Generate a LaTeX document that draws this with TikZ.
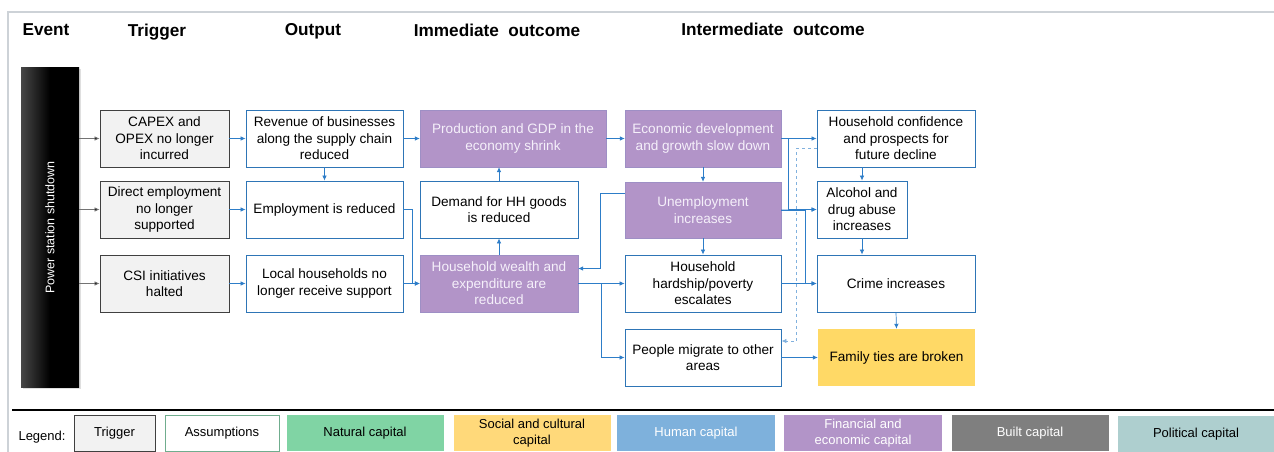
\documentclass[tikz,border=0pt]{standalone}
\usepackage{fontspec}
\setmainfont{Liberation Sans}
\usetikzlibrary{arrows.meta,positioning,calc,shadows}
\definecolor{bluebd}{RGB}{46,117,182}
\definecolor{bluecn}{RGB}{45,125,200}
\definecolor{purp}{RGB}{178,148,200}
\definecolor{yell}{RGB}{255,217,102}
\definecolor{legyell}{RGB}{255,217,122}
\definecolor{natgreen}{RGB}{128,212,164}
\definecolor{humblue}{RGB}{126,177,220}
\definecolor{builtgray}{RGB}{127,127,127}
\definecolor{polgreen}{RGB}{174,207,207}
\definecolor{asmgreen}{RGB}{112,173,142}
\definecolor{triggray}{RGB}{242,242,242}
\definecolor{framegray}{RGB}{205,210,215}
\definecolor{lavwhite}{RGB}{245,240,250}
\tikzset{
  basebox/.style={rectangle, inner sep=1pt, align=center, font=\fontsize{13.6}{16.5}\selectfont},
  trig/.style={basebox, fill=triggray, draw=black!75, line width=0.9pt},
  asm/.style={basebox, fill=white, draw=bluebd, line width=0.9pt},
  fin/.style={basebox, fill=purp, draw=purp!85!bluebd, line width=0.4pt, text=lavwhite},
  soc/.style={basebox, fill=yell, draw=none},
  conn/.style={draw=bluecn, line width=0.7pt, -{Latex[length=5pt,width=4.5pt]}},
  dconn/.style={draw=bluecn!60, line width=0.8pt, dashed, -{Latex[length=5pt,width=4.5pt]}},
  evconn/.style={draw=black!55, line width=0.7pt, -{Latex[length=5pt,width=4.5pt,fill=black]}},
  header/.style={font=\fontsize{17.2}{19}\selectfont\bfseries, anchor=base},
  leg/.style={rectangle, inner sep=1pt, align=center, minimum width=158, minimum height=36, font=\fontsize{13}{15.5}\selectfont},
}
\begin{document}
\begin{tikzpicture}[x=1pt,y=-1pt]
\useasboundingbox (0,0) rectangle (1274,452);
% frame
\draw[framegray, line width=1.5pt] (8,452) -- (8,12) -- (1274,12);
\draw[black, line width=2.5pt] (12,410) -- (1274,410);
% headers
\node[header, anchor=base west] (hEvent) at (19,36) {Event};
\node[header] (hTrig) at (157,37) {Trigger};
\node[header] (hOut) at (313,36) {Output};
\node[header] (hImm) at (497,37) {Immediate\ \ outcome};
\node[header] (hInt) at (773,36) {Intermediate\ \ outcome};
% event bar
\node[rectangle, left color=black!72, right color=black, middle color=black, minimum width=58, minimum height=319, inner sep=0, drop shadow={opacity=0.25, shadow xshift=1.5pt, shadow yshift=-1.5pt}] (ev) at (50,227.5) {};
\node[rotate=90, text=white, font=\fontsize{12.5}{14}\selectfont] (evtext) at (ev.center) {Power station shutdown};
% triggers
\node[trig, minimum width=129, minimum height=57] (capex) at (164.5,138.5) {CAPEX and\\OPEX no longer\\incurred};
\node[trig, minimum width=129, minimum height=57] (direct) at (164.5,209.5) {Direct employment\\no longer\\supported};
\node[trig, minimum width=129, minimum height=57] (csi) at (164.5,283.5) {CSI initiatives\\halted};
% outputs
\node[asm, minimum width=157, minimum height=57] (rev) at (324.5,138.5) {Revenue of businesses\\along the supply chain\\reduced};
\node[asm, minimum width=157, minimum height=57] (emp) at (324.5,209.5) {Employment is reduced};
\node[asm, minimum width=157, minimum height=57] (local) at (324.5,283.5) {Local households no\\longer receive support};
% immediate
\node[fin, minimum width=186, minimum height=57] (gdp) at (513,138.5) {Production and GDP in the\\economy shrink};
\node[asm, minimum width=158, minimum height=57] (demand) at (499,209.5) {Demand for HH goods\\is reduced};
\node[fin, minimum width=158, minimum height=57] (wealth) at (499,283.5) {Household wealth and\\expenditure are\\reduced};
% intermediate col 1
\node[fin, minimum width=156, minimum height=57] (econ) at (703,138.5) {Economic development\\and growth slow down};
\node[fin, minimum width=156, minimum height=56] (unemp) at (703,210) {Unemployment\\increases};
\node[asm, minimum width=156, minimum height=57] (hard) at (703,283.5) {Household\\hardship/poverty\\escalates};
\node[asm, minimum width=156, minimum height=57] (migr) at (703,357.5) {People migrate to other\\areas};
% intermediate col 2
\node[asm, minimum width=158, minimum height=57] (conf) at (896,138.5) {Household confidence\\and prospects for\\future decline};
\node[asm, minimum width=90, minimum height=57] (alc) at (862,209.5) {Alcohol and\\drug abuse\\increases};
\node[asm, minimum width=158, minimum height=57] (crime) at (896,283.5) {Crime increases};
\node[soc, minimum width=157, minimum height=57] (family) at (896.5,357.5) {Family ties are broken};
% connectors
\draw[evconn] (ev.east |- capex) -- (capex.west);
\draw[evconn] (ev.east |- direct) -- (direct.west);
\draw[evconn] (ev.east |- csi) -- (csi.west);
\draw[conn] (capex.east) -- (rev.west);
\draw[conn] (direct.east) -- (emp.west);
\draw[conn] (csi.east) -- (local.west);
\draw[conn] (rev.south) -- (emp.north);
\draw[conn] (rev.east) -- (gdp.west);
\draw[conn] (emp.east) -- ++(9,0) |- (wealth.west);
\draw[conn] (local.east) -- (wealth.west);
\draw[conn] (wealth.north) -- (demand.south);
\draw[conn] (demand.north) -- (demand.north |- gdp.south);
\draw[conn] (gdp.east) -- (econ.west);
\draw[conn] (econ.south) -- (unemp.north);
\draw[conn] ([yshift=17pt]unemp.west) -- ++(-24,0) |- ([yshift=15pt]wealth.east);
\draw[conn] (wealth.east) -- (hard.west);
\draw[conn] (wealth.east) -- ++(23,0) |- (migr.west);
\draw[conn] (unemp.south) -- (hard.north);
\draw[conn] (econ.east) -- (conf.west);
\draw[conn] (econ.east) -- ++(7,0) |- (alc.west);
\draw[conn] (unemp.east) -- (alc.west);
\draw[conn] (unemp.east) -- ++(24,0) |- (crime.west);
\draw[conn] (hard.east) -- (crime.west);
\draw[dconn] ([yshift=-9.5pt]conf.west) -- ++(-20,0) |- ([yshift=16.5pt]migr.east);
\draw[conn] (alc.north |- conf.south) -- (alc.north);
\draw[conn] (alc.south) -- (alc.south |- crime.north);
\draw[conn] (crime.south) -- (family.north);
\draw[conn] (migr.east) -- (family.west);
% legend
\node[font=\fontsize{13}{15.5}\selectfont, anchor=west] (legtitle) at (15,437) {Legend:};
\node[leg, minimum width=81, fill=triggray, draw=black!75, line width=0.9pt] (lTrig) at (114.5,433) {Trigger};
\node[leg, minimum width=114, fill=white, draw=asmgreen, line width=0.9pt] (lAsm) at (222,433) {Assumptions};
\node[leg, minimum width=157, fill=natgreen] (lNat) at (365,433) {Natural capital};
\node[leg, minimum width=157, fill=legyell] (lSoc) at (532,433) {Social and cultural\\capital};
\node[leg, minimum width=158, fill=humblue, text=white] (lHum) at (696,433) {Human capital};
\node[leg, minimum width=158, fill=purp, text=white] (lFin) at (863,433) {Financial and\\economic capital};
\node[leg, minimum width=157, fill=builtgray, text=white] (lBuilt) at (1030,433) {Built capital};
\node[leg, minimum width=157, fill=polgreen] (lPol) at (1196,434) {Political capital};
\end{tikzpicture}
\end{document}
